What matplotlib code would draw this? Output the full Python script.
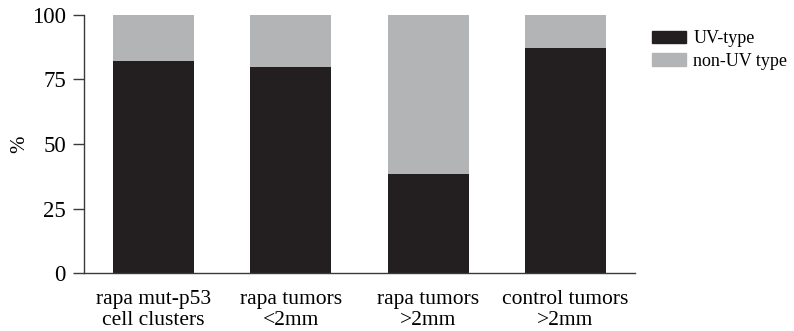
import matplotlib
matplotlib.use("Agg")
import numpy as np
import matplotlib.pyplot as plt
from matplotlib.patches import Patch

matplotlib.rcParams['font.family'] = ['Liberation Serif', 'DejaVu Serif']

# data
categories = ["rapa mut-p53\ncell clusters", "rapa tumors\n<2mm",
              "rapa tumors\n>2mm", "control tumors\n>2mm"]
uv_type = [82.2, 80.0, 38.4, 87.3]
non_uv_type = [100 - v for v in uv_type]
yticks = [0, 25, 50, 75, 100]

black = '#231f20'
grey = '#b3b4b6'

fig = plt.figure(figsize=(7.94, 3.31), dpi=100)
ax = fig.add_axes([0.1058, 0.1752, 0.6939, 0.7795])

x = np.arange(len(categories))
ax.bar(x, uv_type, width=0.59, color=black, label='UV-type')
ax.bar(x, non_uv_type, width=0.59, bottom=uv_type, color=grey, label='non-UV type')

ax.set_xlim(-0.506, 3.507)
ax.set_ylim(0, 100)
ax.set_yticks(yticks)
ax.set_xticks(x)
ax.set_xticklabels(categories, fontsize=15.5, linespacing=1.15)
ax.tick_params(axis='x', length=0, pad=12)
ax.tick_params(axis='y', length=8, width=1, color='#3a3a3a', labelsize=16.5, pad=5)
ax.set_ylabel('%', fontsize=15)
ax.yaxis.set_label_coords(-0.1, 0.5)

for s in ['top', 'right']:
    ax.spines[s].set_visible(False)
for s in ['left', 'bottom']:
    ax.spines[s].set_color('#3a3a3a')
    ax.spines[s].set_linewidth(1)

handles = [Patch(color=black, label='UV-type'), Patch(color=grey, label='non-UV type')]
fig.legend(handles=handles, loc='upper left', bbox_to_anchor=(0.812, 0.93),
           frameon=False, fontsize=13, handlelength=1.9, handleheight=0.7,
           handletextpad=0.4, labelspacing=0.3, borderaxespad=0)

fig.savefig('out.png', dpi=100)
